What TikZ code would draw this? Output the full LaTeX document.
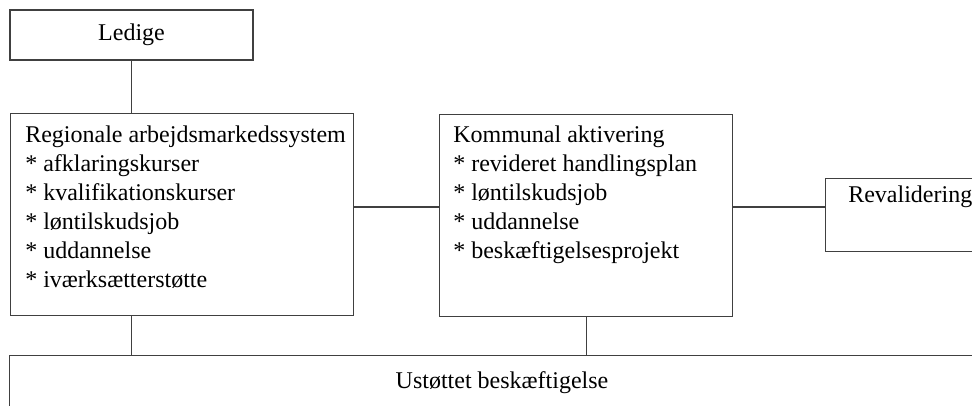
\documentclass[tikz,border=0pt]{standalone}
\usepackage{fontspec}
\setmainfont{Liberation Serif}

\tikzset{
  kasse/.style={draw=black!75, line width=0.8pt, inner sep=0pt},
  tekst/.style={inner sep=0pt, align=left, font=\fontsize{18}{21.75}\selectfont},
  linje/.style={draw=black!75, line width=0.8pt},
}

\begin{document}
\begin{tikzpicture}[x=0.75pt,y=0.75pt,yscale=-1,xscale=1]
\useasboundingbox (0,0) rectangle (972,406);
\clip (0,0) rectangle (972,406);

%Shape: Rectangle [ledige]
\node[kasse, tekst, align=center, minimum width=182.25pt, minimum height=37.5pt] (ledige) at (131.5,35) {Ledige};
%Shape: Rectangle [region]
\node[kasse, anchor=north west, minimum width=257.25pt, minimum height=151.5pt] (region) at (10,113) {};
%Shape: Rectangle [kommune]
\node[kasse, anchor=north west, minimum width=219.75pt, minimum height=151.5pt] (kommune) at (439,114) {};
%Shape: Rectangle [reval]
\node[kasse, anchor=north west, minimum width=130.5pt, minimum height=54.75pt] (reval) at (825,178) {};
%Shape: Rectangle [ustoettet]
\node[kasse, anchor=north west, minimum width=739.5pt, minimum height=93.75pt] (ustoettet) at (9,355) {};

% Text Node
\node[tekst, anchor=north west] (region-tekst) at (25,125.6) {Regionale arbejdsmarkedssystem\\{*} afklaringskurser\\{*} kvalifikationskurser\\{*} løntilskudsjob\\{*} uddannelse\\{*} iværksætterstøtte};
% Text Node
\node[tekst, anchor=north west] (kommune-tekst) at (453,125.3) {Kommunal aktivering\\{*} revideret handlingsplan\\{*} løntilskudsjob\\{*} uddannelse\\{*} beskæftigelsesprojekt};
% Text Node
\node[tekst, anchor=base west] (reval-tekst) at (848,203) {Revalidering};
% Text Node
\node[tekst, anchor=base] (ustoettet-tekst) at (502,388) {Ustøttet beskæftigelse};

%Straight Lines
\coordinate (midt) at (0,207);
\draw[linje] (ledige.south) -- (ledige.south |- region.north);
\draw[linje] (region.east |- midt) -- (kommune.west |- midt);
\draw[linje] (kommune.east |- midt) -- (reval.west |- midt);
\draw[linje] (ledige.south |- region.south) -- (ledige.south |- ustoettet.north);
\draw[linje] (kommune.south) -- (kommune.south |- ustoettet.north);

\end{tikzpicture}
\end{document}
